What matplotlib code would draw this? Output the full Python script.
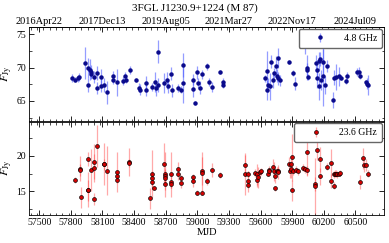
import datetime as dt
import matplotlib
matplotlib.use("Agg")
import matplotlib.pyplot as plt
from matplotlib.ticker import MultipleLocator

plt.rcParams["font.family"] = ["Liberation Serif", "DejaVu Serif"]
plt.rcParams["mathtext.fontset"] = "stix"

# 4.8 GHz light curve
mjd_48 = [57809, 57841, 57866, 57876, 57933, 57961, 57961, 57980, 57989, 57993,
          58024, 58049, 58053, 58084, 58087, 58119, 58147, 58201, 58204, 58236,
          58299, 58318, 58327, 58359, 58422, 58451, 58454, 58511, 58514, 58567,
          58599, 58608, 58631, 58631, 58687, 58713, 58719, 58751, 58757, 58814,
          58845, 58864, 58864, 58956, 58956, 58981, 58997, 59010, 59025, 59047,
          59092, 59114, 59142, 59212, 59243, 59243, 59638, 59660, 59663, 59673,
          59685, 59695, 59714, 59726, 59745, 59755, 59764, 59767, 59780, 59865,
          59906, 59925, 60020, 60036, 60039, 60048, 60127, 60131, 60137, 60150,
          60150, 60159, 60172, 60191, 60194, 60210, 60229, 60285, 60292, 60317,
          60345, 60361, 60412, 60424, 60513, 60535, 60544, 60598, 60614, 60623]
flux_48 = [68.4, 68.2, 68.4, 68.6, 70.7, 67.4, 70.0, 69.7, 69.4, 69.1,
           68.6, 67.0, 69.2, 68.6, 67.3, 67.4, 66.3, 68.7, 68.2, 67.8,
           68.05, 68.8, 68.2, 69.6, 68.1, 67.0, 66.7, 67.7, 66.6, 67.1,
           67.9, 67.0, 72.4, 67.4, 67.7, 68.1, 67.2, 69.1, 66.6, 66.9,
           66.7, 70.4, 67.7, 68.2, 66.8, 64.7, 69.3, 67.7, 67.0, 69.0,
           70.2, 67.8, 67.1, 69.4, 67.8, 67.4, 68.4, 66.7, 69.5, 67.4,
           67.2, 70.9, 68.1, 69.2, 70.25, 68.8, 71.4, 68.4, 68.1, 70.9,
           69.2, 67.6, 73.9, 70.0, 69.7, 68.6, 70.7, 69.6, 68.5, 71.0,
           67.2, 71.3, 68.1, 70.8, 68.7, 67.4, 70.3, 65.2, 68.5, 68.6,
           68.7, 68.5, 68.0, 68.7, 69.4, 69.4, 68.7, 67.8, 67.6, 67.4]
err_48 = [0.6, 0.4, 0.5, 0.6, 2.4, 1.1, 1.5, 1.6, 1.0, 0.8,
          0.9, 0.9, 1.0, 1.2, 1.0, 1.0, 1.7, 0.8, 0.6, 2.0,
          0.6, 0.6, 0.5, 0.6, 0.3, 0.7, 0.8, 1.1, 0.8, 0.6,
          1.5, 1.2, 1.7, 1.0, 1.5, 1.3, 1.0, 1.0, 1.0, 0.6,
          0.5, 1.8, 3.0, 0.8, 1.2, 0.3, 1.0, 0.8, 1.0, 0.7,
          0.5, 0.6, 0.7, 0.3, 0.6, 0.5, 0.5, 1.5, 3.0, 1.0,
          2.0, 1.0, 1.2, 0.7, 1.5, 1.0, 1.5, 1.0, 0.8, 0.3,
          0.4, 1.0, 1.8, 1.9, 1.0, 0.5, 1.2, 1.0, 1.5, 1.3,
          2.0, 1.1, 1.5, 2.0, 4.5, 1.3, 0.9, 1.2, 1.1, 2.0,
          1.4, 0.4, 0.4, 0.7, 0.6, 0.7, 0.4, 0.4, 0.8, 1.5]

# 23.6 GHz light curve
mjd_236 = [57841, 57885, 57885, 57898, 57961, 57961, 57967, 57989, 58021, 58024,
           58024, 58049, 58113, 58119, 58147, 58236, 58239, 58239, 58356, 58356,
           58555, 58567, 58571, 58571, 58593, 58687, 58691, 58691, 58691, 58691,
           58751, 58751, 58751, 58814, 58817, 58842, 58845, 58956, 58959, 58994,
           59041, 59044, 59044, 59088, 59139, 59212, 59448, 59455, 59477, 59477,
           59483, 59543, 59562, 59568, 59578, 59594, 59603, 59670, 59676, 59679,
           59720, 59726, 59733, 59736, 59752, 59761, 59764, 59869, 59875, 59887,
           59891, 59897, 59897, 59903, 59935, 59954, 60004, 60017, 60036, 60042,
           60112, 60118, 60137, 60162, 60166, 60232, 60270, 60270, 60295, 60301,
           60307, 60317, 60326, 60342, 60352, 60541, 60573, 60582, 60598, 60617]
flux_236 = [16.6, 18.2, 18.0, 14.1, 19.6, 15.2, 15.1, 18.05, 19.2, 18.3,
            13.9, 21.4, 18.9, 18.8, 17.9, 17.7, 17.2, 16.6, 19.1, 19.0,
            14.0, 17.5, 16.9, 16.3, 15.5, 18.9, 17.4, 17.1, 16.9, 16.0,
            17.4, 16.3, 16.0, 18.2, 17.4, 16.8, 16.2, 17.0, 16.4, 14.8,
            17.85, 17.6, 14.8, 16.4, 18.05, 17.3, 18.7, 17.4, 16.4, 15.9,
            17.4, 17.6, 17.4, 16.6, 17.0, 17.7, 17.8, 17.5, 18.05, 17.8,
            18.5, 17.8, 15.4, 17.1, 17.8, 17.9, 17.7, 18.8, 17.9, 18.1,
            18.8, 19.8, 15.1, 17.8, 18.05, 17.8, 18.3, 18.1, 20.6, 17.95,
            16.0, 15.7, 20.9, 19.5, 17.1, 18.5, 19.0, 16.5, 15.8, 17.4,
            17.5, 17.5, 17.4, 17.5, 17.6, 16.3, 19.7, 18.7, 18.7, 17.5]
err_236 = [0.4, 1.8, 0.8, 1.5, 1.0, 2.5, 1.5, 3.0, 2.5, 2.0,
           0.8, 3.0, 3.0, 0.8, 3.5, 2.8, 0.5, 0.5, 2.0, 0.5,
           1.5, 3.3, 1.0, 1.0, 0.3, 3.0, 3.2, 1.0, 1.0, 0.8,
           3.2, 0.8, 0.5, 1.0, 0.8, 0.5, 0.8, 0.4, 0.8, 0.3,
           2.0, 3.0, 0.3, 0.5, 1.0, 0.4, 1.5, 3.0, 1.5, 0.5,
           0.5, 0.6, 1.5, 1.0, 1.5, 0.5, 0.5, 0.4, 0.5, 0.4,
           1.0, 1.3, 0.4, 1.0, 0.6, 0.5, 1.0, 1.0, 1.0, 1.2,
           1.0, 3.3, 1.5, 0.5, 0.5, 0.5, 0.5, 0.5, 3.5, 0.6,
           1.0, 4.0, 1.5, 1.8, 1.2, 0.5, 2.0, 1.0, 0.5, 0.5,
           0.5, 0.5, 0.5, 0.4, 0.4, 1.0, 1.5, 1.0, 0.8, 0.5]

date_ticks = [57500, 58100, 58700, 59300, 59900, 60500]
mjd_ticks = [57500, 57800, 58100, 58400, 58700, 59000, 59300, 59600, 59900, 60200, 60500]


def mjd_to_label(m):
    d = dt.date(1858, 11, 17) + dt.timedelta(days=m)
    return d.strftime("%Y%b%d")


fig = plt.figure(figsize=(3.89, 2.43), dpi=100)
ax1 = fig.add_axes([0.075, 0.5, 0.912, 0.389])
ax2 = fig.add_axes([0.075, 0.115, 0.912, 0.385], sharex=ax1)

ax1.errorbar(mjd_48, flux_48, yerr=err_48, fmt="o", ms=2.2, mfc="#0a0a8c", mec="#0a0a8c",
             ecolor=(0.3, 0.36, 1.0, 0.6), elinewidth=0.9, capsize=0, label="4.8 GHz")
ax2.errorbar(mjd_236, flux_236, yerr=err_236, fmt="o", ms=2.8, mfc="#d40000", mec="black",
             mew=0.45, ecolor=(1.0, 0.25, 0.25, 0.45), elinewidth=0.9, capsize=0, label="23.6 GHz")

ax1.set_xlim(57405, 60770)
ax1.set_ylim(61.9, 76.1)
ax2.set_ylim(11.6, 24.9)

for ax in (ax1, ax2):
    ax.xaxis.set_major_locator(plt.FixedLocator(mjd_ticks))
    ax.xaxis.set_minor_locator(MultipleLocator(60))
    ax.yaxis.set_major_locator(MultipleLocator(5))
    ax.yaxis.set_minor_locator(MultipleLocator(2.5))
    ax.tick_params(which="both", direction="in", right=True, labelsize=7, pad=2)
    ax.tick_params(which="major", length=3.5, width=0.6)
    ax.tick_params(which="minor", length=1.8, width=0.5)
    ax.set_ylabel(r"$F_{\rm Jy}$", fontsize=8.5, labelpad=2)
    for s in ax.spines.values():
        s.set_linewidth(0.6)
    ax.legend(loc="upper right", fontsize=7, handlelength=3.4, handletextpad=0.75,
              borderpad=0.5, framealpha=1, edgecolor="0.4", fancybox=True,
              borderaxespad=0.2)

ax1.tick_params(axis="x", which="both", top=False, labelbottom=False)
ax2.tick_params(axis="x", which="both", top=True)
ax2.set_xlabel("MJD", fontsize=7.5, labelpad=1)

top = ax1.secondary_xaxis("top")
top.set_xticks(date_ticks)
top.set_xticklabels([mjd_to_label(m) for m in date_ticks])
top.xaxis.set_minor_locator(MultipleLocator(60))
top.tick_params(which="both", direction="in", labelsize=7.5, pad=1)
top.tick_params(which="major", length=3.5, width=0.6)
top.tick_params(which="minor", length=1.8, width=0.5)
top.spines["top"].set_linewidth(0.6)

fig.suptitle("3FGL J1230.9+1224 (M 87)", fontsize=8, y=0.985)

fig.savefig("out.png", dpi=100)
